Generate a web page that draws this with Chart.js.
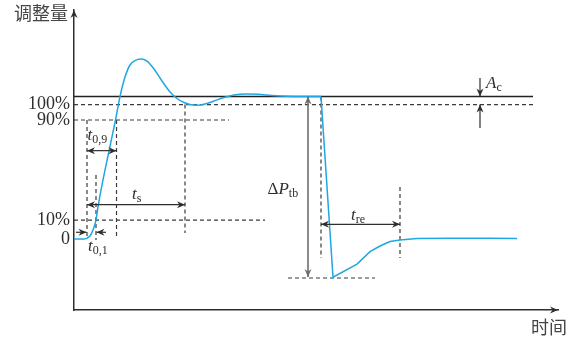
<!DOCTYPE html>
<html>
<head>
<meta charset="utf-8">
<script src="https://cdn.jsdelivr.net/npm/chart.js@4"></script>
<style>
  html, body { margin: 0; padding: 0; background: #fff; }
  canvas { display: block; }
</style>
</head>
<body>
<canvas id="c" width="574" height="340"></canvas>
<script>
// levels on the y axis (arbitrary units, 0 = start value, 100 = 100%)
const levelTicks = [0, 14.1, 88.5, 100]
const levelLabels = ['0', '10%', '90%', '100%']
const steady = 105.9   // solid line the response settles on
const dipLevel = -29   // lowest point after the disturbance

// step response, rise and settle
const riseT = [0, 10, 13, 16, 19, 22, 24, 29, 35, 41.5, 46, 51, 56, 61, 67, 73, 80, 88, 96, 103, 110, 117, 123, 131, 140, 150, 160, 172, 184, 198, 214, 231, 247]
const riseY = [0, 0, 0.7, 2.2, 6.7, 14.1, 23.8, 43.9, 65.4, 88.5, 105.9, 120.4, 129.4, 132.7, 133.8, 132.3, 126.4, 117.5, 109.3, 104.5, 101.5, 99.8, 99.5, 100.4, 102.6, 105.2, 107.1, 107.8, 107.6, 106.8, 106.2, 105.9, 105.9]

// disturbance and recovery
const dropT = [247, 259, 283, 296, 306, 316, 326, 343, 376, 416, 443]
const dropY = [105.9, -28.4, -18.7, -9.4, -5.2, -1.9, -0.7, 0.4, 0.5, 0.5, 0.4]

// characteristic times
const tStart = 13, t01 = 22, t09 = 42.5, tS = 111, tDist = 247, tRe = 326

const pts = (xs, ys) => xs.map((x, i) => ({ x, y: ys[i] }))

// dashed guides, each pair is one segment
const guideSegs = [
  [[0, 100], [459, 100]],
  [[0, 88.5], [155, 88.5]],
  [[0, 14.1], [191, 14.1]],
  [[tStart, 88.5], [tStart, 0.7]],
  [[t01, 47.6], [t01, -0.7]],
  [[t09, 88.5], [t09, 1.5]],
  [[tS, 100], [tS, 4.5]],
  [[tDist, steady], [tDist, -14.1]],
  [[tRe, 38.7], [tRe, -14.1]],
  [[214, dipLevel], [301, dipLevel]]
]
const guideData = []
guideSegs.forEach(s => {
  guideData.push({ x: s[0][0], y: s[0][1] }, { x: s[1][0], y: s[1][1] }, { x: s[1][0], y: null })
})

const ink = '#2e2e2e'
const blue = '#1fa6e4'

function head(ctx, x, y, ang, color) {
  ctx.save()
  ctx.translate(x, y)
  ctx.rotate(ang)
  ctx.fillStyle = color
  ctx.beginPath()
  ctx.moveTo(0, 0)
  ctx.lineTo(-8, -3.5)
  ctx.lineTo(-5.5, 0)
  ctx.lineTo(-8, 3.5)
  ctx.closePath()
  ctx.fill()
  ctx.restore()
}

function arrow(chart, x1, y1, x2, y2, both, color, width) {
  const { x, y } = chart.scales
  const ctx = chart.ctx
  const ax = x.getPixelForValue(x1), ay = y.getPixelForValue(y1)
  const bx = x.getPixelForValue(x2), by = y.getPixelForValue(y2)
  ctx.save()
  ctx.strokeStyle = color
  ctx.lineWidth = width
  ctx.beginPath()
  ctx.moveTo(ax, ay)
  ctx.lineTo(bx, by)
  ctx.stroke()
  const ang = Math.atan2(by - ay, bx - ax)
  head(ctx, bx, by, ang, color)
  if (both) head(ctx, ax, ay, ang + Math.PI, color)
  ctx.restore()
}

function subLabel(chart, pre, main, sub, xv, yv) {
  const { x, y } = chart.scales
  const ctx = chart.ctx
  let px = x.getPixelForValue(xv)
  const py = y.getPixelForValue(yv)
  ctx.save()
  ctx.fillStyle = ink
  ctx.textBaseline = 'alphabetic'
  ctx.textAlign = 'left'
  if (pre) {
    ctx.font = '17px "Liberation Serif"'
    ctx.fillText(pre, px, py)
    px += ctx.measureText(pre).width
  }
  ctx.font = 'italic 17px "Liberation Serif"'
  ctx.fillText(main, px, py)
  px += ctx.measureText(main).width
  ctx.font = '12px "Liberation Serif"'
  ctx.fillText(sub, px, py + 3)
  ctx.restore()
}

const annotations = {
  id: 'annotations',
  afterDatasetsDraw(chart) {
    const ctx = chart.ctx
    const area = chart.chartArea
    // axis arrow heads
    head(ctx, area.left, area.top, -Math.PI / 2, ink)
    head(ctx, area.right, area.bottom, 0, ink)

    arrow(chart, tStart, 65.7, t09, 65.7, true, ink, 1.2)
    arrow(chart, tStart, 25.5, tS, 25.5, true, ink, 1.2)
    arrow(chart, 2, 5, tStart - 0.5, 5, false, ink, 1.2)
    arrow(chart, 32, 5, t01 + 0.5, 5, false, ink, 1.2)
    arrow(chart, tDist, 10.9, tRe, 10.9, true, ink, 1.2)
    arrow(chart, 234, steady, 234, -28.3, true, '#6e6e6e', 1.6)
    arrow(chart, 406, 119.7, 406, steady, false, ink, 1.2)
    arrow(chart, 406, 82.5, 406, 100, false, ink, 1.2)

    subLabel(chart, '', 't', '0,9', 13.5, 73.6)
    subLabel(chart, '', 't', 's', 58, 29.7)
    subLabel(chart, '', 't', '0,1', 14, -8.9)
    subLabel(chart, '', 't', 're', 277, 13.8)
    subLabel(chart, '\u0394', 'P', 'tb', 193.5, 33.8)
    subLabel(chart, '', 'A', 'c', 412, 112.3)

    ctx.save()
    ctx.fillStyle = '#444'
    ctx.font = '18px "Noto Sans CJK SC"'
    ctx.textBaseline = 'middle'
    ctx.textAlign = 'left'
    ctx.fillText('调整量', 14, 13)
    ctx.fillText('时间', 531, 327)
    ctx.restore()
  }
}

Chart.defaults.font.family = '"Liberation Serif", serif'

new Chart(document.getElementById('c'), {
  type: 'line',
  data: {
    datasets: [
      {
        data: pts(riseT, riseY),
        borderColor: blue,
        borderWidth: 1.5,
        pointRadius: 0,
        cubicInterpolationMode: 'monotone'
      },
      {
        data: pts(dropT, dropY),
        borderColor: blue,
        borderWidth: 1.5,
        pointRadius: 0,
        tension: 0
      },
      {
        data: [{ x: 0, y: steady }, { x: 459, y: steady }],
        borderColor: '#222',
        borderWidth: 1.5,
        pointRadius: 0
      },
      {
        data: guideData,
        borderColor: '#3a3a3a',
        borderWidth: 1.2,
        borderDash: [4, 3],
        pointRadius: 0,
        spanGaps: false
      }
    ]
  },
  options: {
    responsive: false,
    animation: false,
    devicePixelRatio: 1,
    layout: { padding: { top: 10, right: 16, left: 0, bottom: 0 } },
    plugins: { legend: { display: false }, tooltip: { enabled: false } },
    scales: {
      x: {
        type: 'linear',
        min: 0,
        max: 484,
        grid: { display: false, drawTicks: false },
        border: { display: true, color: ink, width: 1.5 },
        ticks: { display: false },
        afterFit(s) { s.height = 30 }
      },
      y: {
        type: 'linear',
        min: -52.8,
        max: 170.3,
        grid: { display: false, drawTicks: false },
        border: { display: true, color: ink, width: 1.5 },
        afterBuildTicks(s) { s.ticks = levelTicks.map(v => ({ value: v })) },
        ticks: {
          padding: 4,
          color: ink,
          font: { size: 18 },
          callback(v, i) { return levelLabels[i] }
        },
        afterFit(s) {
          s.width = 74
          s.paddingTop = 0
          s.paddingBottom = 0
        }
      }
    }
  },
  plugins: [annotations]
})
</script>
</body>
</html>
